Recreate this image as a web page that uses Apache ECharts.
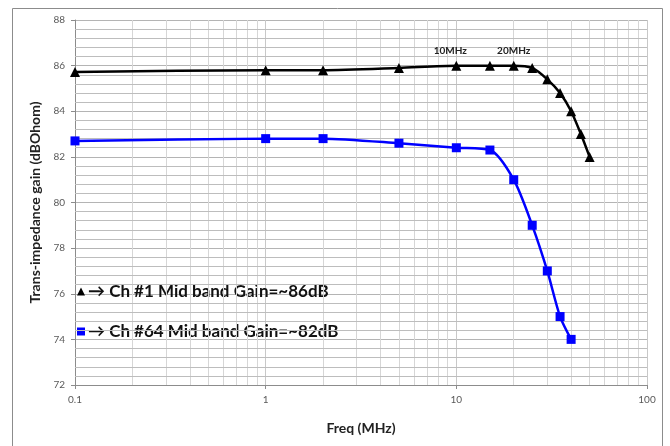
<!DOCTYPE html>
<html>
<head>
<meta charset="utf-8">
<script src="https://cdn.jsdelivr.net/npm/echarts@6/dist/echarts.min.js"></script>
<style>html,body{margin:0;padding:0;background:#fff}#c{width:670px;height:446px}</style>
</head>
<body>
<div id="c"></div>
<script>
// Data
const ch1Freq = [0.1, 1, 2, 5, 10, 15, 20, 25, 30, 35, 40, 45, 50];
const ch1Gain = [85.72, 85.8, 85.8, 85.9, 86.0, 86.0, 86.0, 85.9, 85.4, 84.8, 84.0, 83.0, 82.0];
const ch64Freq = [0.1, 1, 2, 5, 10, 15, 20, 25, 30, 35, 40];
const ch64Gain = [82.7, 82.8, 82.8, 82.6, 82.4, 82.3, 81.0, 79.0, 77.0, 75.0, 74.0];
const ch1Name = '\u2192 Ch #1 Mid band Gain=~86dB';
const ch64Name = '\u2192 Ch #64 Mid band Gain=~82dB';
const pointLabels = {10: '10MHz', 20: '20MHz'};
const minorFreqs = [0.2,0.3,0.4,0.5,0.6,0.7,0.8,0.9,2,3,4,5,6,7,8,9,20,30,40,50,60,70,80,90];
const minorGains = [72.4,72.8,73.2,73.6,74.4,74.8,75.2,75.6,76.4,76.8,77.2,77.6,78.4,78.8,79.2,79.6,
  80.4,80.8,81.2,81.6,82.4,82.8,83.2,83.6,84.4,84.8,85.2,85.6,86.4,86.8,87.2,87.6];

const FONT = 'Lato';
const chart = echarts.init(document.getElementById('c'), null, {renderer: 'canvas'});
const tickFont = {fontFamily: FONT, fontSize: 10, color: '#595959'};

const ch1Data = ch1Freq.map((f, i) => {
  const item = {value: [f, ch1Gain[i]]};
  if (pointLabels[f]) {
    item.label = {show: true, position: 'top', distance: 5, offset: [pointLabels[f] === '10MHz' ? -6 : 0, 0],
      formatter: pointLabels[f], fontFamily: FONT, fontWeight: 'bold', fontSize: 10, color: '#222'};
  }
  return item;
});

chart.setOption({
  animation: false,
  backgroundColor: '#fff',
  graphic: [{
    type: 'rect', silent: true, z: -10,
    shape: {x: 12.5, y: 8.5, width: 650, height: 460},
    style: {fill: 'none', stroke: '#8c8c8c', lineWidth: 1}
  }],
  legend: {
    orient: 'vertical', left: 72, top: 278, itemGap: 23,
    itemWidth: 8, itemHeight: 8, selectedMode: false,
    textStyle: {fontFamily: FONT, fontWeight: 'bold', fontSize: 17, color: '#111', padding: [0,0,0,-2]},
    data: [
      {name: ch1Name, icon: 'triangle', itemStyle: {color: '#000'}},
      {name: ch64Name, icon: 'rect', itemStyle: {color: '#0000ff'}}
    ]
  },
  grid: {left: 75, right: 23, top: 20, bottom: 61, containLabel: false},
  xAxis: {
    type: 'log', logBase: 10, min: 0.1, max: 100,
    name: 'Freq (MHz)', nameLocation: 'middle', nameGap: 36,
    nameTextStyle: {fontFamily: FONT, fontWeight: 'bold', fontSize: 14, color: '#222'},
    axisLine: {show: true, lineStyle: {color: '#8c8c8c'}},
    axisTick: {show: true, length: 4, lineStyle: {color: '#8c8c8c'}},
    axisLabel: Object.assign({margin: 10, formatter: v => String(v)}, tickFont),
    splitLine: {show: true, lineStyle: {color: '#c8c8c8', width: 1}}
  },
  yAxis: {
    type: 'value', min: 72, max: 88, interval: 2,
    name: 'Trans-impedance gain (dBOhom)', nameLocation: 'middle', nameGap: 31,
    nameTextStyle: {fontFamily: FONT, fontWeight: 'bold', fontSize: 14, color: '#222'},
    axisLine: {show: true, lineStyle: {color: '#8c8c8c'}},
    axisTick: {show: true, length: 4, inside: false, lineStyle: {color: '#8c8c8c'}},
    axisLabel: Object.assign({margin: 10}, tickFont),
    splitLine: {show: true, lineStyle: {color: '#b4b4b4', width: 1}}
  },
  series: [
    {
      name: 'minor-grid', type: 'line', data: [], silent: true,
      markLine: {
        silent: true, symbol: ['none', 'none'], label: {show: false}, animation: false,
        lineStyle: {color: '#d6d6d6', type: 'solid', width: 1},
        data: minorFreqs.map(f => ({xAxis: f}))
          .concat(minorGains.map(g => ({yAxis: g, lineStyle: {color: '#bdbdbd', type: 'solid', width: 1}})))
      },
      z: 1
    },
    {
      name: ch1Name, type: 'line', data: ch1Data, smooth: 0.25,
      symbol: 'triangle', symbolSize: 10,
      lineStyle: {color: '#000', width: 2.5},
      itemStyle: {color: '#000'}, z: 5
    },
    {
      name: ch64Name, type: 'line', data: ch64Freq.map((f, i) => [f, ch64Gain[i]]), smooth: 0.25,
      symbol: 'rect', symbolSize: 9,
      lineStyle: {color: '#0000ff', width: 2.5},
      itemStyle: {color: '#0000ff'}, z: 5
    }
  ]
});
</script>
</body>
</html>
